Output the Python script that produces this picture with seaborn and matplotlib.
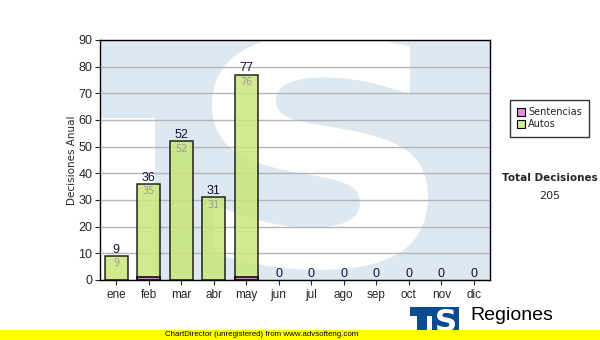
import matplotlib
matplotlib.use("Agg")
import matplotlib.pyplot as plt
import seaborn as sns
import pandas as pd
from matplotlib.patches import Rectangle, PathPatch, Patch
from matplotlib.textpath import TextPath
from matplotlib.font_manager import FontProperties
from matplotlib.transforms import Affine2D

months = ["ene", "feb", "mar", "abr", "may", "jun", "jul", "ago", "sep", "oct", "nov", "dic"]
sentencias = [0, 1, 0, 0, 1, 0, 0, 0, 0, 0, 0, 0]
autos = [9, 35, 52, 31, 76, 0, 0, 0, 0, 0, 0, 0]
totals = [a + s for a, s in zip(autos, sentencias)]
yticks = [0, 10, 20, 30, 40, 50, 60, 70, 80, 90]
total_decisiones = 205

df = pd.DataFrame({"mes": months, "total": totals, "sentencias": sentencias, "autos": autos})

sns.set_style("white")
plt.rcParams["font.family"] = ["Liberation Sans", "DejaVu Sans"]

W, H = 600, 340
fig = plt.figure(figsize=(6, 3.4), dpi=100)
ax = fig.add_axes([100 / W, 1 - 280 / H, 390 / W, 240 / H])

WM = "#dde8f1"
# watermark: light blue square with T notch and white S
ax.add_patch(Rectangle((0, 0), 1, 1, transform=ax.transAxes, facecolor=WM, edgecolor="none", zorder=0))
ax.add_patch(Rectangle((0, 0), 0.14, 0.675, transform=ax.transAxes, facecolor="white", edgecolor="none", zorder=0.1))


def glyph_patch(char, x0, y0, x1, y1, transform, color, zorder, clip=True):
    tp = TextPath((0, 0), char, size=100, prop=FontProperties(family="DejaVu Sans", weight="bold"))
    ext = tp.get_extents()
    sx = (x1 - x0) / ext.width
    sy = (y1 - y0) / ext.height
    tr = Affine2D().translate(-ext.x0, -ext.y0).scale(sx, sy).translate(x0, y0)
    path = tr.transform_path(tp)
    return PathPatch(path, transform=transform, facecolor=color, edgecolor="none", zorder=zorder, clip_on=clip)


ax.add_patch(glyph_patch("S", 0.287, 0.042, 0.841, 1.02, ax.transAxes, "white", 0.2))

# bars
sns.barplot(data=df, x="mes", y="total", order=months, color="#cae67c", saturation=1, width=0.7,
            edgecolor="black", linewidth=1.1, alpha=0.85, ax=ax, zorder=3)
sns.barplot(data=df, x="mes", y="sentencias", order=months, color="#e07ad0", saturation=1, width=0.7,
            edgecolor="black", linewidth=1.1, ax=ax, zorder=4)
for p in ax.patches:
    if isinstance(p, Rectangle) and p.get_height() == 0 and p.get_zorder() >= 3:
        p.set_linewidth(0)

for i, (t, a) in enumerate(zip(totals, autos)):
    ax.annotate(str(t), (i, t), xytext=(0, 4.6), textcoords="offset points", ha="center", va="center",
                fontsize=9, color="#10103a", zorder=6)
    if a > 0:
        ax.annotate(str(a), (i, t), xytext=(0, -5.2), textcoords="offset points", ha="center", va="center",
                    fontsize=7, color="#9a9a9a", family="DejaVu Sans", zorder=6)

ax.set_xlim(-0.5, 11.5)
ax.set_ylim(0, 90)
ax.set_yticks(yticks)
ax.set_yticklabels([str(v) for v in yticks], fontsize=9)
ax.tick_params(axis="x", labelsize=8.5, length=3.5, width=0.8, direction="out", pad=3, bottom=True)
ax.tick_params(axis="y", length=3.5, width=0.8, direction="out", pad=2, left=True)
ax.set_xlabel("")
ax.set_ylabel("Decisiones Anual", fontsize=7.5, family="DejaVu Sans", labelpad=1)
ax.yaxis.grid(True, color="#b4b4b4", linewidth=1.0, zorder=1)
ax.set_axisbelow(False)
for gl in ax.get_ygridlines():
    gl.set_zorder(1)
for sp in ax.spines.values():
    sp.set_visible(True)
    sp.set_color("black")
    sp.set_linewidth(1.0)
    sp.set_zorder(7)

# legend
handles = [Patch(facecolor="#e58ad8", edgecolor="black", linewidth=0.8, label="Sentencias"),
           Patch(facecolor="#d4ea98", edgecolor="black", linewidth=0.8, label="Autos")]
leg = fig.legend(handles=handles, loc="upper left", bbox_to_anchor=(510 / W, 1 - 100 / H),
                 prop={"family": "DejaVu Sans", "size": 7}, frameon=True, fancybox=False,
                 handlelength=0.8, handleheight=0.8, handletextpad=0.3, borderpad=0.75,
                 labelspacing=0.2, borderaxespad=0)
leg.get_frame().set_edgecolor("black")
leg.get_frame().set_linewidth(1.0)

fig.text(550 / W, 1 - 178 / H, "Total Decisiones", ha="center", va="center", fontsize=7.5,
         fontweight="bold", family="DejaVu Sans")
fig.text(550 / W, 1 - 196 / H, str(total_decisiones), ha="center", va="center", fontsize=8,
         family="DejaVu Sans")

# logo
LB = "#0b4b91"
def fr(x0, y0, x1, y1, color, z):
    fig.patches.append(Rectangle((x0 / W, 1 - y1 / H), (x1 - x0) / W, (y1 - y0) / H,
                                 transform=fig.transFigure, facecolor=color, edgecolor="none", zorder=z))
fr(410, 307, 433, 316, LB, 1)
fr(417, 307, 427, 334, LB, 1)
fr(432, 307, 459, 334, LB, 1)
fig.patches.append(glyph_patch("S", 437 / W, 1 - 331 / H, 455 / W, 1 - 309 / H, fig.transFigure, "white", 2, clip=False))
fig.text(470 / W, 1 - 316 / H, "Regiones", ha="left", va="center", fontsize=14, color="black")
fig.text(470 / W, 1 - 335 / H, "Tribunal Superior de Justicia", ha="left", va="center", fontsize=7,
         color="#333333", zorder=0)

# footer band
fig.patches.append(Rectangle((0, 0), 1, 10 / H, transform=fig.transFigure, facecolor="#ffff00",
                             edgecolor="none", zorder=5))
fig.text(262 / W, 5 / H, "ChartDirector (unregistered) from www.advsofteng.com", ha="center", va="center",
         fontsize=5.7, color="black", zorder=6)

fig.savefig("out.png", dpi=100)
